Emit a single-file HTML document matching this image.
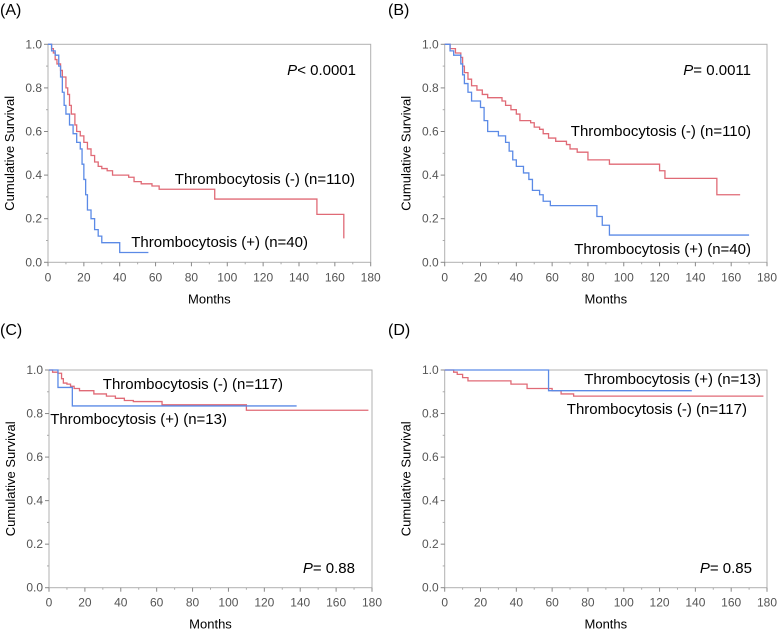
<!DOCTYPE html>
<html><head><meta charset="utf-8">
<style>
html,body{margin:0;padding:0;background:#fff;}
svg{display:block;font-family:"Liberation Sans",Arial,sans-serif;}
</style></head>
<body>
<svg id="fig" width="778" height="629" viewBox="0 0 778 629"></svg>
<script>
// ---- Data (time in months, cumulative survival) ----
const xTicks = [0,20,40,60,80,100,120,140,160,180];
const yTicks = [0.0,0.2,0.4,0.6,0.8,1.0];
const yTickLabels = ["0.0","0.2","0.4","0.6","0.8","1.0"];

const aNegT = [0,2,3,4,5,7,8,10,11,12,13,15,16,18,20,22,24,26,28,30,33,36,45,48,52,58,62,93,150,165];
const aNegS = [1,0.98,0.96,0.93,0.91,0.88,0.85,0.8,0.77,0.72,0.68,0.63,0.6,0.58,0.55,0.52,0.49,0.46,0.44,0.43,0.42,0.40,0.39,0.37,0.36,0.35,0.335,0.29,0.22,0.11];
const aNegEnd = 165;
const aPosT = [0,2,4,6,7,8,9,10,12,14,16,18,19,20,21,22,24,26,28,30,40];
const aPosS = [1,0.97,0.95,0.9,0.85,0.78,0.72,0.68,0.63,0.59,0.55,0.52,0.45,0.38,0.31,0.24,0.2,0.15,0.12,0.09,0.045];
const aPosEnd = 56;

const bNegT = [0,3,6,9,10,11,13,15,18,21,24,32,34,37,40,42,48,50,53,55,58,62,68,70,74,80,92,120,123,152];
const bNegS = [1,0.98,0.96,0.94,0.9,0.87,0.84,0.81,0.79,0.77,0.755,0.74,0.72,0.7,0.68,0.65,0.64,0.62,0.61,0.59,0.57,0.555,0.54,0.52,0.505,0.47,0.45,0.42,0.385,0.31];
const bNegEnd = 165;
const bPosT = [0,3,5,9,10,11,13,15,20,22,24,30,34,36,38,40,44,47,49,53,55,59,85,88,92];
const bPosS = [1,0.97,0.95,0.91,0.86,0.82,0.78,0.74,0.71,0.65,0.6,0.58,0.55,0.51,0.47,0.44,0.41,0.38,0.33,0.31,0.28,0.26,0.21,0.17,0.125];
const bPosEnd = 170;

const cNegT = [0,2,5,7,8,10,12,14,17,25,32,37,42,47,63,110];
const cNegS = [1,0.99,0.985,0.96,0.94,0.935,0.925,0.915,0.905,0.89,0.88,0.87,0.86,0.855,0.84,0.815];
const cNegEnd = 178;
const cPosT = [0,5,13];
const cPosS = [1,0.92,0.835];
const cPosEnd = 138;

const dNegT = [0,5,7,10,13,37,46,60,65,72];
const dNegS = [1,0.99,0.98,0.965,0.95,0.935,0.915,0.905,0.89,0.88];
const dNegEnd = 178;
const dPosT = [0,58];
const dPosS = [1,0.905];
const dPosEnd = 138;

const NS = "http://www.w3.org/2000/svg";
const svg = document.getElementById('fig');
function mk(tag, attrs, parent, txt){
  const e = document.createElementNS(NS, tag);
  for (const k in attrs) e.setAttribute(k, attrs[k]);
  if (txt !== undefined) e.textContent = txt;
  (parent||svg).appendChild(e);
  return e;
}
const RED = "#e06a76", BLUE = "#5b8ae6";

function panel(id, letter, lx, ly, x0, x1, yTop, yBot, series, labels){
  const g = mk('g', {});
  
  
  const sx = v => x0 + (x1 - x0) * v / 180;
  const sy = v => yBot - (yBot - yTop) * v;
  const pl = mk('text', {x: lx, y: ly, 'font-size': 16, fill: '#000'}, g, '(' + letter + ')');
  
  
  const box = mk('rect', {x: x0, y: yTop, width: x1 - x0, height: yBot - yTop, fill: 'none', stroke: '#b0b0b0', 'stroke-width': 1}, g);
  
  
  // x ticks
  xTicks.forEach(t => {
    mk('line', {x1: sx(t), x2: sx(t), y1: yBot, y2: yBot + 4, stroke: '#888'}, g);
    const tl = mk('text', {x: sx(t), y: yBot + 19, 'font-size': 12, fill: '#555', 'text-anchor': 'middle'}, g, String(t));
    
    
  });
  for (let t = 10; t < 180; t += 20) mk('line', {x1: sx(t), x2: sx(t), y1: yBot, y2: yBot + 2, stroke: '#aaa'}, g);
  yTicks.forEach((t, i) => {
    mk('line', {x1: x0 - 4, x2: x0, y1: sy(t), y2: sy(t), stroke: '#888'}, g);
    const tl = mk('text', {x: x0 - 6, y: sy(t) + 4, 'font-size': 12, fill: '#555', 'text-anchor': 'end'}, g, yTickLabels[i]);
    
    
  });
  for (let t = 0.1; t < 1; t += 0.2) mk('line', {x1: x0 - 2, x2: x0, y1: sy(t), y2: sy(t), stroke: '#aaa'}, g);
  const xt = mk('text', {x: (x0 + x1) / 2, y: yBot + 41, 'font-size': 13, fill: '#000', 'text-anchor': 'middle'}, g, 'Months');
  
  
  const cy = (yTop + yBot) / 2;
  const yt = mk('text', {x: 0, y: 0, 'font-size': 13, fill: '#000', 'text-anchor': 'middle', transform: 'translate(' + (x0 - 34) + ',' + cy + ') rotate(-90)'}, g, 'Cumulative Survival');
  
  
  series.forEach(s => {
    let d = 'M' + sx(s.t[0]) + ',' + sy(s.s[0]);
    for (let i = 1; i < s.t.length; i++) {
      d += ' H' + sx(s.t[i]) + ' V' + sy(s.s[i]);
    }
    d += ' H' + sx(s.end);
    const p = mk('path', {d: d, fill: 'none', stroke: s.c, 'stroke-width': 1.3}, g);
    
    
  });
  labels.forEach(l => {
    const t = mk('text', {x: l.x, y: l.y, 'font-size': 15, fill: '#000', 'text-anchor': 'end'}, g);
    if (l.p) {
      mk('tspan', {'font-style': 'italic'}, t, 'P');
      mk('tspan', {}, t, l.txt);
    } else t.textContent = l.txt;
    
    
  });
}

panel('a', 'A', 0, 15, 48, 370.7, 44.3, 262.3,
  [{t: aNegT, s: aNegS, end: aNegEnd, c: RED, name: 'curve-thrombocytosis-negative'},
   {t: aPosT, s: aPosS, end: aPosEnd, c: BLUE, name: 'curve-thrombocytosis-positive'}],
  [{x: 356, y: 75, p: true, txt: '< 0.0001', name: 'p-value'},
   {x: 355, y: 184, txt: 'Thrombocytosis (-) (n=110)', name: 'label-negative'},
   {x: 308, y: 247, txt: 'Thrombocytosis (+) (n=40)', name: 'label-positive'}]);

panel('b', 'B', 388, 15, 444.7, 767, 44.3, 262.3,
  [{t: bNegT, s: bNegS, end: bNegEnd, c: RED, name: 'curve-thrombocytosis-negative'},
   {t: bPosT, s: bPosS, end: bPosEnd, c: BLUE, name: 'curve-thrombocytosis-positive'}],
  [{x: 751, y: 75, p: true, txt: '= 0.0011', name: 'p-value'},
   {x: 751, y: 136, txt: 'Thrombocytosis (-) (n=110)', name: 'label-negative'},
   {x: 751, y: 254, txt: 'Thrombocytosis (+) (n=40)', name: 'label-positive'}]);

panel('c', 'C', 0, 335, 49, 372, 370, 587.7,
  [{t: cNegT, s: cNegS, end: cNegEnd, c: RED, name: 'curve-thrombocytosis-negative'},
   {t: cPosT, s: cPosS, end: cPosEnd, c: BLUE, name: 'curve-thrombocytosis-positive'}],
  [{x: 355, y: 573, p: true, txt: '= 0.88', name: 'p-value'},
   {x: 283, y: 389, txt: 'Thrombocytosis (-) (n=117)', name: 'label-negative'},
   {x: 227, y: 424, txt: 'Thrombocytosis (+) (n=13)', name: 'label-positive'}]);

panel('d', 'D', 388, 335, 444.7, 767, 370, 587.7,
  [{t: dNegT, s: dNegS, end: dNegEnd, c: RED, name: 'curve-thrombocytosis-negative'},
   {t: dPosT, s: dPosS, end: dPosEnd, c: BLUE, name: 'curve-thrombocytosis-positive'}],
  [{x: 752, y: 573, p: true, txt: '= 0.85', name: 'p-value'},
   {x: 747, y: 414, txt: 'Thrombocytosis (-) (n=117)', name: 'label-negative'},
   {x: 761, y: 384, txt: 'Thrombocytosis (+) (n=13)', name: 'label-positive'}]);
</script>
</body></html>
